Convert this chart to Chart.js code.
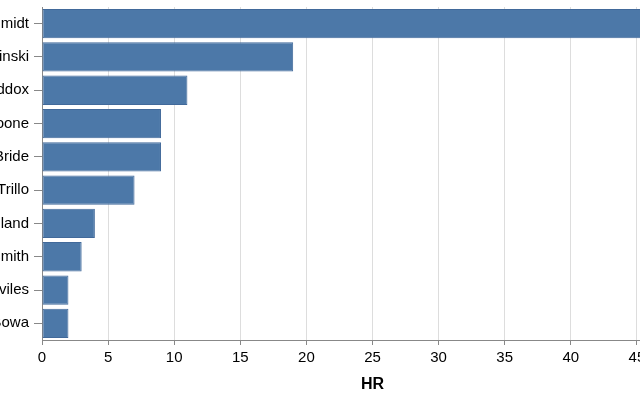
<!DOCTYPE html>
<html>
<head>
<meta charset="utf-8">
<script src="https://cdn.jsdelivr.net/npm/chart.js@4"></script>
<style>
  html, body { margin: 0; padding: 0; background: #fff; overflow: hidden; width: 640px; height: 400px; }
  #wrap { position: absolute; left: -100px; top: 0; width: 820px; height: 400px; }
</style>
</head>
<body>
<div id="wrap"><canvas id="myChart"></canvas></div>
<script>
const players = ['Mike Schmidt', 'Greg Luzinski', 'Garry Maddox', 'Bob Boone', 'Bake McBride',
                 'Manny Trillo', 'Keith Moreland', 'Lonnie Smith', 'Ramon Aviles', 'Larry Bowa'];
const homeRuns = [48, 19, 11, 9, 9, 7, 4, 3, 2, 2];
const xTicks = [0, 5, 10, 15, 20, 25, 30, 35, 40, 45, 50];

const AXIS = '#888';
const GRID = '#ddd';
const FONT = "'Liberation Sans', Arial, sans-serif";

new Chart(document.getElementById('myChart'), {
    type: 'bar',
    data: {
        labels: players,
        datasets: [{
            label: 'HR', data: homeRuns,
            backgroundColor: '#4c78a8', borderColor: '#41699a', borderWidth: 1,
            borderSkipped: false,
            categoryPercentage: 1, barPercentage: 0.88
        }]
    },
    options: {
        indexAxis: 'y',
        responsive: true, maintainAspectRatio: false, animation: false,
        layout: { padding: { top: 7, right: 17, bottom: 0, left: 0 } },
        plugins: { legend: { display: false }, tooltip: { enabled: false } },
        scales: {
            x: {
                min: 0, max: 50,
                afterBuildTicks: s => { s.ticks = xTicks.map(v => ({ value: v })); },
                afterFit: s => { s.height = 60; },
                grid: { color: GRID, tickColor: AXIS, tickLength: 5 },
                border: { color: AXIS },
                ticks: { color: '#000', padding: 4, font: { family: FONT, size: 15 } },
                title: { display: true, text: 'HR', color: '#000', padding: { top: 4, bottom: 6 },
                         font: { family: FONT, size: 16, weight: 'bold' } }
            },
            y: {
                afterFit: s => { s.width = 142; s.paddingTop = 0; s.paddingBottom = 0; },
                grid: { drawOnChartArea: false, offset: false, tickColor: AXIS, tickLength: 8 },
                border: { color: AXIS },
                ticks: { color: '#000', padding: 5, font: { family: FONT, size: 15 } }
            }
        }
    }
});
</script>
</body>
</html>
